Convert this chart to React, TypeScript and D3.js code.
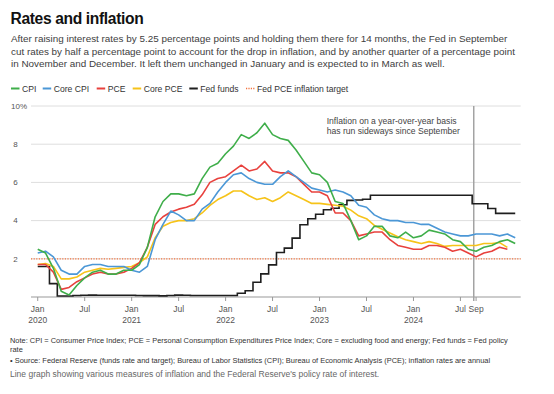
import React from "react";
import * as d3 from "d3";

// Monthly values, Jan 2020 onward (percent)
const cpi = [
  2.5, 2.3, 1.5, 0.3, 0.1, 0.6, 1.0, 1.3, 1.4, 1.2, 1.2, 1.4,
  1.4, 1.7, 2.6, 4.2, 5.0, 5.4, 5.4, 5.3, 5.4, 6.2, 6.8, 7.0,
  7.5, 7.9, 8.5, 8.3, 8.6, 9.1, 8.5, 8.3, 8.2, 7.7, 7.1, 6.5,
  6.4, 6.0, 5.0, 4.9, 4.0, 3.0, 3.2, 3.7, 3.7, 3.2, 3.1, 3.4,
  3.1, 3.2, 3.5, 3.4, 3.3, 3.0, 2.9, 2.5, 2.4, 2.6, 2.7, 2.9,
  3.0, 2.8,
];
const coreCpi = [
  2.3, 2.4, 2.1, 1.4, 1.2, 1.2, 1.6, 1.7, 1.7, 1.6, 1.6, 1.6,
  1.4, 1.3, 1.6, 3.0, 3.8, 4.5, 4.3, 4.0, 4.0, 4.6, 4.9, 5.5,
  6.0, 6.4, 6.5, 6.2, 6.0, 5.9, 5.9, 6.3, 6.6, 6.3, 6.0, 5.7,
  5.6, 5.5, 5.6, 5.5, 5.3, 4.8, 4.7, 4.3, 4.1, 4.0, 4.0, 3.9,
  3.9, 3.8, 3.8, 3.6, 3.4, 3.3, 3.2, 3.2, 3.3, 3.3, 3.3, 3.2,
  3.3, 3.1,
];
const pce = [
  1.7, 1.7, 1.3, 0.4, 0.5, 0.8, 1.0, 1.2, 1.3, 1.2, 1.2, 1.3,
  1.5, 1.8, 2.6, 3.8, 4.2, 4.45, 4.6, 4.7, 4.85, 5.35, 6.0, 6.2,
  6.3, 6.6, 6.9, 6.6, 6.7, 7.1, 6.6, 6.5, 6.5, 6.3, 5.9, 5.5,
  5.5, 5.3, 4.4, 4.4, 4.0, 3.2, 3.3, 3.4, 3.4, 3.0, 2.7, 2.6,
  2.5, 2.5, 2.7, 2.7, 2.6, 2.4, 2.5, 2.3, 2.1, 2.3, 2.4, 2.6,
  2.5,
];
const corePce = [
  1.7, 1.75, 1.6, 0.95, 0.95, 1.05, 1.3, 1.4, 1.5, 1.45, 1.5, 1.55,
  1.6, 1.8, 2.1, 3.1, 3.7, 3.9, 4.0, 4.0, 4.1, 4.4, 4.8, 5.1,
  5.3, 5.55, 5.55, 5.3, 5.1, 5.2, 5.0, 5.2, 5.5, 5.3, 5.1, 4.9,
  4.9, 4.85, 4.8, 4.75, 4.55, 4.25, 4.1, 3.75, 3.55, 3.35, 3.15, 3.0,
  2.9, 2.8, 2.9, 2.8, 2.65, 2.7, 2.7, 2.7, 2.7, 2.8, 2.8, 2.85,
  2.6,
];
const fedFunds = [
  1.6, 1.6, 0.7, 0.05, 0.05, 0.08, 0.09, 0.1, 0.09, 0.09, 0.09, 0.09,
  0.09, 0.08, 0.07, 0.07, 0.06, 0.08, 0.1, 0.09, 0.08, 0.08, 0.08, 0.08,
  0.08, 0.08, 0.2, 0.33, 0.77, 1.21, 1.68, 2.33, 2.56, 3.08, 3.78, 4.1,
  4.33, 4.57, 4.65, 4.83, 5.06, 5.08, 5.12, 5.33, 5.33, 5.33, 5.33, 5.33,
  5.33, 5.33, 5.33, 5.33, 5.33, 5.33, 5.33, 5.33, 4.88, 4.88, 4.63, 4.38,
  4.38, 4.38,
];
const inflationTarget = 2;

const yTicks = [2, 4, 6, 8, 10];
const xTickMonths = [0, 6, 12, 18, 24, 30, 36, 42, 48, 54, 56];
const xTickLabels = [
  ["Jan", "2020"], ["Jul"], ["Jan", "2021"], ["Jul"], ["Jan", "2022"], ["Jul"],
  ["Jan", "2023"], ["Jul"], ["Jan", "2024"], ["Jul"], ["Sep"],
];
const legendLabels = ["CPI", "Core CPI", "PCE", "Core PCE", "Fed funds", "Fed PCE inflation target"];
const subtitleLines = [
  "After raising interest rates by 5.25 percentage points and holding them there for 14 months, the Fed in September",
  "cut rates by half a percentage point to account for the drop in inflation, and by another quarter of a percentage point",
  "in November and December. It left them unchanged in January and is expected to in March as well.",
];
const annotationLines = ["Inflation on a year-over-year basis", "has run sideways since September"];
const noteLines = [
  "Note: CPI = Consumer Price Index; PCE = Personal Consumption Expenditures Price Index; Core = excluding food and energy; Fed funds = Fed policy",
  "rate",
];
const sourceLine = "• Source: Federal Reserve (funds rate and target); Bureau of Labor Statistics (CPI); Bureau of Economic Analysis (PCE); inflation rates are annual";
const altLine = "Line graph showing various measures of inflation and the Federal Reserve's policy rate of interest.";

const COLORS = {
  cpi: "#3fae4a",
  coreCpi: "#4b97d6",
  pce: "#e8413d",
  corePce: "#f6c319",
  fed: "#1e1e1e",
  target: "#f2733f",
};

const FONT = "'Liberation Sans', Arial, Helvetica, sans-serif";

export default function App() {
  const W = 554;
  const H = 394;
  const x = d3.scaleLinear().domain([-0.86, 61.7]).range([31, 520.7]);
  const y = d3.scaleLinear().domain([0, 10]).range([297, 106]);
  const [x0, x1] = x.range();

  const line = d3
    .line<number>()
    .x((_, i) => x(i))
    .y((d) => y(d));
  const step = d3
    .line<number>()
    .x((_, i) => x(i))
    .y((d) => y(d))
    .curve(d3.curveStep);

  const series = [
    { data: corePce, color: COLORS.corePce },
    { data: pce, color: COLORS.pce },
    { data: coreCpi, color: COLORS.coreCpi },
    { data: cpi, color: COLORS.cpi },
  ];

  const legendX = [11, 42.7, 96.7, 132.7, 189.3, 246];
  const legendColors = [COLORS.cpi, COLORS.coreCpi, COLORS.pce, COLORS.corePce, COLORS.fed, COLORS.target];
  const vLineX = x(55.7);

  return (
    <svg
      width={W}
      height={H}
      viewBox={`0 0 ${W} ${H}`}
      style={{ position: "absolute", left: 0, top: 0, background: "#fff" }}
      fontFamily={FONT}
    >
      <rect width={W} height={H} fill="#fff" />
      <text x={10.5} y={24} fontSize={15.6} fontWeight="bold" letterSpacing={-0.35} fill="#111">
        Rates and inflation
      </text>
      {subtitleLines.map((t, i) => (
        <text key={i} x={11} y={42 + i * 12.6} fontSize={9.9} fill="#404040">
          {t}
        </text>
      ))}

      {legendLabels.map((lab, i) => (
        <g key={lab}>
          <line
            x1={legendX[i]}
            x2={legendX[i] + 8.5}
            y1={88.5}
            y2={88.5}
            stroke={legendColors[i]}
            strokeWidth={i === 5 ? 1.3 : 2}
            strokeDasharray={i === 5 ? "1.2,1.2" : undefined}
          />
          <text x={legendX[i] + 11} y={91.5} fontSize={8.6} fill="#333">
            {lab}
          </text>
        </g>
      ))}

      {yTicks.map((t) => (
        <g key={t}>
          <line x1={x0} x2={x1} y1={y(t)} y2={y(t)} stroke="#dedede" strokeWidth={1} />
          <text
            x={t === 10 ? 11 : 13.2}
            y={y(t)}
            dy="0.35em"
            fontSize={8}
            fill="#555"
          >
            {t === 10 ? "10%" : t}
          </text>
        </g>
      ))}

      <line
        x1={x0}
        x2={x1}
        y1={y(inflationTarget)}
        y2={y(inflationTarget)}
        stroke={COLORS.target}
        strokeWidth={1.2}
        strokeDasharray="1.2,1.4"
      />

      <line x1={x0} x2={x1} y1={y(0)} y2={y(0)} stroke="#999" strokeWidth={1} />
      {xTickMonths.map((m, i) => (
        <g key={m}>
          <line x1={x(m)} x2={x(m)} y1={y(0)} y2={y(0) + 4} stroke="#999" strokeWidth={1} />
          {xTickLabels[i].map((s, j) => (
            <text key={j} x={x(m)} y={312 + j * 10.5} fontSize={8.5} fill="#555" textAnchor="middle">
              {s}
            </text>
          ))}
        </g>
      ))}

      <line x1={vLineX} x2={vLineX} y1={106} y2={301} stroke="#a3a3a3" strokeWidth={1.5} />

      {annotationLines.map((t, i) => (
        <text key={i} x={326.7} y={124 + i * 10.4} fontSize={8.6} fill="#444">
          {t}
        </text>
      ))}

      <path d={step(fedFunds) || ""} fill="none" stroke={COLORS.fed} strokeWidth={1.6} />
      {series.map((s, i) => (
        <path
          key={i}
          d={line(s.data) || ""}
          fill="none"
          stroke={s.color}
          strokeWidth={1.6}
          strokeLinejoin="round"
        />
      ))}

      {noteLines.map((t, i) => (
        <text key={i} x={10} y={342.5 + i * 9.5} fontSize={7.45} fill="#333">
          {t}
        </text>
      ))}
      <text x={10} y={363} fontSize={7.45} fill="#333">
        {sourceLine}
      </text>
      <text x={10} y={377} fontSize={8.5} fill="#666">
        {altLine}
      </text>
    </svg>
  );
}
